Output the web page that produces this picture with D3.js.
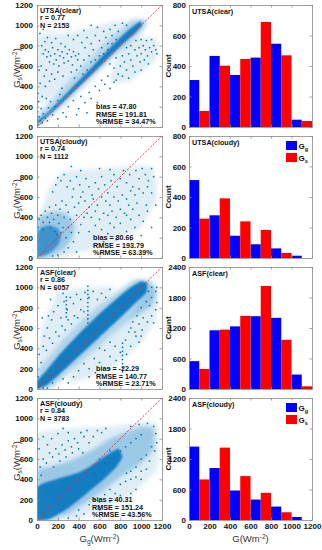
<!DOCTYPE html>
<html>
<head>
<meta charset="utf-8">
<script src="https://cdn.jsdelivr.net/npm/d3@7"></script>
<style>
  html, body { margin: 0; padding: 0; background: #fff; }
  svg { display: block; font-family: "Liberation Sans", Arial, sans-serif; }
</style>
</head>
<body>
<div id="chart"></div>
<script>
// ---- data ----
const sites = ["UTSA(clear)", "UTSA(cloudy)", "ASF(clear)", "ASF(cloudy)"];
const rValues = ["0.77", "0.74", "0.86", "0.84"];
const nValues = ["2153", "1112", "6057", "3783"];
const biasValues = ["47.80", "80.66", "-22.29", "40.31"];
const rmseValues = ["191.81", "193.79", "140.77", "151.24"];
const pctRmseValues = ["34.47%", "63.39%", "23.71%", "43.56%"];

const scatterTicks = [0, 200, 400, 600, 800, 1000, 1200];
const histXTicks = [0, 200, 400, 600, 800, 1000, 1200];
const binStarts = [0, 200, 400, 600, 800, 1000];
const binWidth = 200;
const utsaCountTicks = [0, 200, 400, 600, 800];
const asfCountTicks = [0, 600, 1200, 1800, 2400];

// histogram counts per 200 W/m2 bin
const utsaClearGg = [308, 466, 341, 455, 546, 48];
const utsaClearGs = [105, 402, 446, 689, 470, 39];
const utsaCloudyGg = [511, 280, 146, 90, 63, 15];
const utsaCloudyGs = [258, 391, 240, 184, 33, 0];
const asfClearGg = [548, 1155, 1232, 1432, 1400, 284];
const asfClearGs = [394, 1168, 1439, 2026, 968, 52];
const asfCloudyGg = [1444, 1022, 580, 402, 264, 59];
const asfCloudyGs = [798, 1424, 864, 534, 152, 0];

// scatter clouds, [Gg, Gs]: solid cores, medium halos, faint diffuse areas, loose points
const utsaClearCore = [[0,25],[200,200],[400,395],[600,595],[800,795],[950,930],[1010,1000],[990,1040],[860,940],[700,780],[500,560],[300,350],[100,140],[0,60]];
const utsaClearHalo = [[0,0],[200,160],[400,350],[600,550],[800,750],[1000,930],[1050,1000],[1040,1060],[900,1050],[700,870],[500,660],[300,450],[100,220],[0,110]];
const utsaClearDiffuse = [[[0,250],[0,900],[300,920],[600,1000],[850,1050],[700,850],[500,650],[300,450],[150,300]], [[700,450],[900,450],[1150,680],[1150,870],[950,880],[800,760]]];
const utsaClearPoints = [
  [60,720],[80,760],[95,690],[110,740],[130,700],[150,780],[170,720],[185,660],[200,760],[220,700],[240,740],[255,680],[270,790],[290,720],[310,760],[330,690],[350,740],[370,700],[390,660],[120,640],[160,620],[210,600],[260,630],[300,650],[340,610],[45,800],[75,840],[140,830],[230,820],[180,870],[100,880],[28,920],[60,960],[20,560],[40,600],[90,560],[70,500],[140,520],[200,540],[250,500],[120,450],[170,470],[30,430],[80,400],[10,330],[50,300],[90,280],
  [380,560],[420,600],[450,660],[400,720],[460,780],[500,700],[520,820],[480,880],[540,760],[560,900],[600,850],[620,780],[640,940],[580,980],[660,880],[700,960],[720,900],[680,820],[430,830],[390,900],[350,860],[300,900],[450,950],[520,1000],[750,1000],[780,940],[820,1020],[860,1000],[330,540],[360,480],[440,520],[480,560],[520,640],[560,660],[600,700],[640,720],[680,760],[720,820],[760,860],
  [700,620],[740,580],[760,680],[780,520],[800,600],[820,700],[840,640],[860,560],[880,720],[900,660],[920,600],[940,760],[960,700],[980,780],[1000,720],[1020,800],[1040,760],[1060,700],[1080,780],[1100,740],[1120,800],[1140,760],[1150,720],[990,640],[1030,660],[1070,620],[900,800],[860,780],[950,850],[1000,860],[1050,850],[1100,860],[820,500],[880,480],[940,540],[1000,560],[760,460],
  [300,200],[350,260],[400,180],[420,300],[460,240],[500,340],[520,280],[560,400],[600,360],[620,460],[650,420],[680,500],[580,240],[480,140],[380,120],[250,140],[200,80],[280,100],[700,380],[740,440],
  [10,20],[30,60],[50,40],[20,100],[60,130],[80,90],[40,180],[100,60],[110,190],[150,120],[130,250],[170,200],[200,260],[220,320],[240,380],[15,250],[0,70],[5,150]
];

const utsaCloudyCore = [[0,20],[60,20],[150,70],[210,140],[230,220],[200,290],[120,320],[40,300],[0,240]];
const utsaCloudyHalo = [[0,0],[120,10],[250,80],[340,200],[360,320],[300,420],[200,460],[80,430],[0,380]];
const utsaCloudyDiffuse = [[[0,300],[100,650],[250,850],[600,880],[1100,900],[1150,600],[1000,300],[700,150],[400,50],[250,0],[0,0]]];
const utsaCloudyPoints = [
  [20,380],[40,420],[60,350],[80,460],[100,400],[120,500],[140,440],[160,380],[180,520],[200,420],[220,480],[240,560],[260,400],[280,520],[300,450],[320,380],[340,600],[360,500],[380,420],[400,540],[10,300],[300,300],[330,250],[280,200],[350,160],[400,250],[420,330],[450,400],[380,60],[300,100],[200,30],[150,20],[260,60],
  [130,300],[170,260],[210,340],[250,300],[190,230],[230,250],[120,350],[60,280],
  [150,650],[180,720],[200,790],[230,760],[260,820],[290,700],[320,760],[350,680],[380,800],[410,720],[440,650],[470,780],[500,700],[530,620],[560,740],[590,680],[620,800],[650,720],[680,640],[710,760],[740,820],[770,700],[800,780],[830,860],[860,740],[890,820],[920,700],[950,860],[980,780],[1010,880],[1040,820],[1070,760],[1100,880],[1120,800],[330,900],[600,880],[700,870],[420,860],
  [420,600],[460,560],[500,500],[540,580],[580,520],[620,600],[660,560],[700,520],[740,600],[780,560],[820,620],[860,580],[900,660],[940,620],[980,680],[1020,640],[1060,700],[1100,640],[1140,520],[480,440],[520,400],[560,460],[600,380],[640,440],[680,420],[720,460],[760,400],[800,480],[840,440],[880,520],[920,480],[960,540],
  [500,260],[560,320],[620,280],[680,240],[740,300],[800,340],[860,260],[900,380],[940,300],[980,420],[1020,360],[1060,460],[1100,300],[900,180],[1000,220],[760,180],[640,160],[1050,520],[860,420],[700,340]
];

const asfClearCore = [[0,0],[100,40],[200,130],[400,320],[600,510],[800,700],[950,850],[1050,950],[1060,1040],[1000,1060],[900,1000],[800,920],[600,740],[400,540],[200,320],[80,170],[0,80]];
const asfClearHalo = [[0,0],[150,20],[300,150],[500,340],[700,520],[900,680],[1100,820],[1150,950],[1100,1060],[950,1080],[800,980],[600,820],[400,640],[250,480],[100,300],[0,180]];
const asfClearDiffuse = [[[0,200],[50,600],[200,950],[500,1000],[750,1000],[600,800],[400,620],[200,400]], [[300,50],[700,200],[1000,450],[1150,700],[1150,1000],[1050,1000],[900,700],[600,450],[350,200]]];
const asfClearPoints = [
  [60,420],[90,380],[120,500],[150,450],[180,560],[210,520],[240,620],[270,580],[300,680],[330,640],[360,720],[390,700],[420,780],[450,760],[100,600],[140,680],[160,760],[200,820],[230,700],[260,860],[290,780],[320,900],[350,840],[380,930],[420,880],[460,950],[500,900],[540,960],[580,880],[620,940],[660,900],[700,980],[40,260],[20,340],[70,520],[110,720],[130,880],[180,980],[250,940],[50,700],
  [282,710],[282,750],[282,790],[282,830],[282,870],[282,905],
  [488,650],[488,690],[488,730],[488,770],[488,810],[488,850],[488,890],[488,930],[488,970],[488,1010],
  [821,170],[821,210],[821,250],[821,290],[821,330],[821,370],[821,410],[821,450],
  [900,600],[940,560],[980,640],[1020,700],[1060,660],[1100,720],[1140,780],[1000,800],[1050,860],[1100,900],[1140,960],[960,720],[920,660],[880,560],[1080,820],[1120,650],[1150,850],[1010,580],[1150,1000],[1100,1000],[1070,960],
  [400,180],[450,250],[500,200],[550,300],[600,260],[650,380],[700,320],[750,420],[800,360],[850,480],[900,420],[950,520],[600,400],[700,460],[350,120],[300,60],[250,100],[500,120],[700,200],[760,280],[860,340],[980,460],[1000,520],[560,160],
  [20,20],[60,10],[10,120],[100,10],[150,60]
];

const asfCloudyCore = [[0,0],[120,10],[250,80],[380,180],[500,280],[640,400],[760,520],[820,620],[780,700],[640,620],[500,520],[380,460],[250,420],[120,380],[0,320]];
const asfCloudyHalo = [[0,0],[200,0],[400,120],[600,260],[800,420],[1000,560],[1120,700],[1120,900],[1000,920],[850,860],[700,800],[550,700],[400,620],[250,560],[100,520],[0,480]];
const asfCloudyDiffuse = [[[0,400],[0,850],[300,900],[700,920],[1150,950],[1150,500],[900,250],[500,50],[300,0]]];
const asfCloudyPoints = [
  [30,520],[60,600],[90,560],[120,660],[150,620],[180,700],[210,650],[240,740],[270,690],[300,780],[330,720],[360,800],[390,760],[420,860],[450,820],[480,880],[100,740],[140,800],[200,850],[250,900],[300,860],[160,520],[220,580],[280,620],[340,660],[400,700],[440,660],[500,760],[540,820],[580,880],[620,860],[660,900],[20,700],[60,820],[40,440],
  [900,480],[950,520],[1000,600],[1050,640],[1100,720],[1080,580],[1130,680],[1000,480],[950,420],[1050,500],[1150,760],[1120,920],[1060,950],[980,940],[900,920],[860,460],[1140,850],
  [500,150],[550,200],[600,180],[650,250],[700,300],[750,260],[800,350],[850,380],[900,400],[600,100],[700,180],[800,240],[450,60],[380,40],[300,20],[950,300],[1000,400],[400,100],[900,260],
  [550,450],[600,500],[650,560],[700,560],[750,620],[800,680],[850,720],[900,760],[950,800],[1000,840],[700,680],[600,600]
];

// ---- layout ----
const width = 322, height = 550;
const panelTops = [5, 136, 267, 398];
const panelH = 122;
const scatterX = [37, 162];
const histX = [189, 312];
const ptColor = "#0072BD";
const frameColor = "#8a8a8a";
const textColor = "#111";

const panels = [
  { core: utsaClearCore, halo: utsaClearHalo, diffuse: utsaClearDiffuse, points: utsaClearPoints, gg: utsaClearGg, gs: utsaClearGs, yTicks: utsaCountTicks, statsX: 96, coreAlpha: 0.88, legend: false },
  { core: utsaCloudyCore, halo: utsaCloudyHalo, diffuse: utsaCloudyDiffuse, points: utsaCloudyPoints, gg: utsaCloudyGg, gs: utsaCloudyGs, yTicks: utsaCountTicks, statsX: 93, coreAlpha: 0.6, legend: true },
  { core: asfClearCore, halo: asfClearHalo, diffuse: asfClearDiffuse, points: asfClearPoints, gg: asfClearGg, gs: asfClearGs, yTicks: asfCountTicks, statsX: 96, coreAlpha: 0.9, legend: false },
  { core: asfCloudyCore, halo: asfCloudyHalo, diffuse: asfCloudyDiffuse, points: asfCloudyPoints, gg: asfCloudyGg, gs: asfCloudyGs, yTicks: asfCountTicks, statsX: 92, coreAlpha: 0.88, legend: true }
];

const svg = d3.select("#chart").append("svg")
  .attr("width", width)
  .attr("height", height)
  .attr("viewBox", `0 0 ${width} ${height}`);

// soft edges for the point clouds
const defs = svg.append("defs");
defs.append("filter").attr("id", "soft").attr("x", "-20%").attr("y", "-20%").attr("width", "140%").attr("height", "140%")
  .append("feGaussianBlur").attr("stdDeviation", 2.2);
defs.append("filter").attr("id", "softer").attr("x", "-20%").attr("y", "-20%").attr("width", "140%").attr("height", "140%")
  .append("feGaussianBlur").attr("stdDeviation", 1);

function styleAxis(g) {
  g.select(".domain").remove();
  g.selectAll(".tick line").attr("stroke", frameColor).attr("stroke-width", 0.8);
  g.selectAll(".tick text")
    .attr("fill", textColor)
    .style("font-size", "8px")
    .style("font-weight", "bold")
    .style("font-family", "'Liberation Sans', Arial, sans-serif");
}

// inside ticks on all four sides of a box, labels only where asked
function drawBox(g, x, y, xTicks, yTicks, showX, yPad) {
  const [x0, x1] = x.range();
  const [yb, yt] = y.range();
  g.append("g").attr("transform", `translate(${x0},0)`)
    .call(d3.axisLeft(y).tickValues(yTicks).tickSizeInner(-2.5).tickSizeOuter(0).tickPadding(yPad).tickFormat(d3.format("d")))
    .call(styleAxis);
  g.append("g").attr("transform", `translate(${x1},0)`)
    .call(d3.axisRight(y).tickValues(yTicks).tickSizeInner(-2.5).tickSizeOuter(0).tickFormat(""))
    .call(styleAxis);
  g.append("g").attr("transform", `translate(0,${yb})`)
    .call(d3.axisBottom(x).tickValues(xTicks).tickSizeInner(-2.5).tickSizeOuter(0).tickPadding(3)
      .tickFormat(showX ? d3.format("d") : ""))
    .call(styleAxis);
  g.append("g").attr("transform", `translate(0,${yt})`)
    .call(d3.axisTop(x).tickValues(xTicks).tickSizeInner(-2.5).tickSizeOuter(0).tickFormat(""))
    .call(styleAxis);
  g.append("rect")
    .attr("x", x0 + 0.5).attr("y", yt + 0.5)
    .attr("width", x1 - x0).attr("height", yb - yt)
    .attr("fill", "none").attr("stroke", frameColor).attr("stroke-width", 0.8);
}

function addLines(g, x, y, lines, size) {
  lines.forEach((t, i) => {
    g.append("text")
      .attr("x", x).attr("y", y + i * 7.5)
      .attr("dy", "0.35em")
      .attr("fill", textColor)
      .style("font-size", size + "px")
      .style("font-weight", "bold")
      .text(t);
  });
}

function drawScatter(p, i) {
  const top = panelTops[i];
  const bottom = top + panelH;
  const last = i === panels.length - 1;
  const g = svg.append("g").attr("class", "scatter");

  const x = d3.scaleLinear().domain([0, 1200]).range(scatterX);
  const y = d3.scaleLinear().domain([0, 1200]).range([bottom, top]);

  const clipId = `clip-s${i}`;
  g.append("clipPath").attr("id", clipId)
    .append("rect").attr("x", scatterX[0]).attr("y", top)
    .attr("width", scatterX[1] - scatterX[0]).attr("height", panelH);

  const plot = g.append("g").attr("clip-path", `url(#${clipId})`);
  const area = d3.line().x(d => x(d[0])).y(d => y(d[1])).curve(d3.curveCardinalClosed.tension(0.6));

  plot.selectAll("path.diffuse")
    .data(p.diffuse).enter().append("path")
    .attr("class", "diffuse")
    .attr("d", area).attr("fill", ptColor).attr("fill-opacity", 0.13)
    .attr("filter", "url(#soft)");
  plot.append("path").datum(p.halo)
    .attr("d", area).attr("fill", ptColor).attr("fill-opacity", 0.3)
    .attr("filter", "url(#soft)");
  plot.append("path").datum(p.core)
    .attr("d", area).attr("fill", ptColor).attr("fill-opacity", p.coreAlpha)
    .attr("filter", "url(#softer)");

  plot.selectAll("rect.pt")
    .data(p.points)
    .enter().append("rect")
    .attr("class", "pt")
    .attr("x", d => x(d[0]) - 0.75)
    .attr("y", d => y(d[1]) - 0.75)
    .attr("width", 1.5).attr("height", 1.5)
    .attr("fill", ptColor);

  // 1:1 line
  plot.append("line")
    .attr("x1", x(0)).attr("y1", y(0))
    .attr("x2", x(1200)).attr("y2", y(1200))
    .attr("stroke", "#ff2020").attr("stroke-width", 0.9)
    .attr("stroke-dasharray", "2,1.6");

  drawBox(g, x, y, scatterTicks, scatterTicks, last, 4);

  addLines(g, scatterX[0] + 3, top + 5, [sites[i], `r = ${rValues[i]}`, `N = ${nValues[i]}`], 7.2);
  addLines(g, p.statsX, bottom - 20.5,
    [`bias = ${biasValues[i]}`, `RMSE = ${rmseValues[i]}`, `%RMSE = ${pctRmseValues[i]}`], 7.2);

  // y label  Gs(Wm-2)
  const yl = g.append("text")
    .attr("transform", `translate(20,${top + panelH / 2 + 2}) rotate(-90)`)
    .attr("text-anchor", "middle")
    .attr("fill", "#333")
    .style("font-size", "9.5px");
  yl.append("tspan").text("G");
  yl.append("tspan").attr("dy", 2).style("font-size", "6.5px").text("s");
  yl.append("tspan").attr("dy", -2).text("(Wm");
  yl.append("tspan").attr("dy", -3).style("font-size", "6.5px").text("-2");
  yl.append("tspan").attr("dy", 3).text(")");

  if (last) {
    const xl = g.append("text")
      .attr("x", (scatterX[0] + scatterX[1]) / 2).attr("y", bottom + 22)
      .attr("text-anchor", "middle")
      .attr("fill", "#333")
      .style("font-size", "9.5px");
    xl.append("tspan").text("G");
    xl.append("tspan").attr("dy", 2).style("font-size", "6.5px").text("g");
    xl.append("tspan").attr("dy", -2).text("(Wm");
    xl.append("tspan").attr("dy", -3).style("font-size", "6.5px").text("-2");
    xl.append("tspan").attr("dy", 3).text(")");
  }
}

function drawHist(p, i) {
  const top = panelTops[i];
  const bottom = top + panelH;
  const last = i === panels.length - 1;
  const g = svg.append("g").attr("class", "hist");

  const x = d3.scaleLinear().domain([0, 1200]).range(histX);
  const y = d3.scaleLinear().domain([0, d3.max(p.yTicks)]).range([bottom, top]);

  const bins = binStarts.map((s, k) => ({ start: s, gg: p.gg[k], gs: p.gs[k] }));

  g.selectAll("rect.gg")
    .data(bins).enter().append("rect")
    .attr("class", "gg")
    .attr("x", d => x(d.start))
    .attr("y", d => y(d.gg))
    .attr("width", d => x(d.start + binWidth / 2) - x(d.start))
    .attr("height", d => y(0) - y(d.gg))
    .attr("fill", "#0000ff");

  g.selectAll("rect.gs")
    .data(bins).enter().append("rect")
    .attr("class", "gs")
    .attr("x", d => x(d.start + binWidth / 2))
    .attr("y", d => y(d.gs))
    .attr("width", d => x(d.start + binWidth) - x(d.start + binWidth / 2))
    .attr("height", d => y(0) - y(d.gs))
    .attr("fill", "#ff0000");

  drawBox(g, x, y, histXTicks, p.yTicks, last, 3);

  addLines(g, histX[0] + 3, top + 6.5, [sites[i]], 7.2);

  g.append("text")
    .attr("transform", `translate(168.5,${top + panelH / 2}) rotate(-90)`)
    .attr("text-anchor", "middle")
    .attr("dy", "0.35em")
    .attr("fill", textColor)
    .style("font-size", "8px")
    .style("font-weight", "bold")
    .text("Count");

  if (p.legend) {
    [{ c: "#0000ff", sub: "g" }, { c: "#ff0000", sub: "s" }].forEach((it, k) => {
      const ly = top + 5 + k * 12;
      g.append("rect")
        .attr("x", 286).attr("y", ly)
        .attr("width", 11).attr("height", 9)
        .attr("fill", it.c);
      const t = g.append("text")
        .attr("x", 298.5).attr("y", ly + 7.5)
        .attr("fill", textColor)
        .style("font-size", "8px")
        .style("font-weight", "bold");
      t.append("tspan").text("G");
      t.append("tspan").attr("dy", 2).style("font-size", "5.5px").text(it.sub);
    });
  }

  if (last) {
    const xl = g.append("text")
      .attr("x", (histX[0] + histX[1]) / 2).attr("y", bottom + 22)
      .attr("text-anchor", "middle")
      .attr("fill", "#333")
      .style("font-size", "9.5px");
    xl.append("tspan").text("G(Wm");
    xl.append("tspan").attr("dy", -3).style("font-size", "6.5px").text("-2");
    xl.append("tspan").attr("dy", 3).text(")");
  }
}

panels.forEach((p, i) => {
  drawScatter(p, i);
  drawHist(p, i);
});
</script>
</body>
</html>
